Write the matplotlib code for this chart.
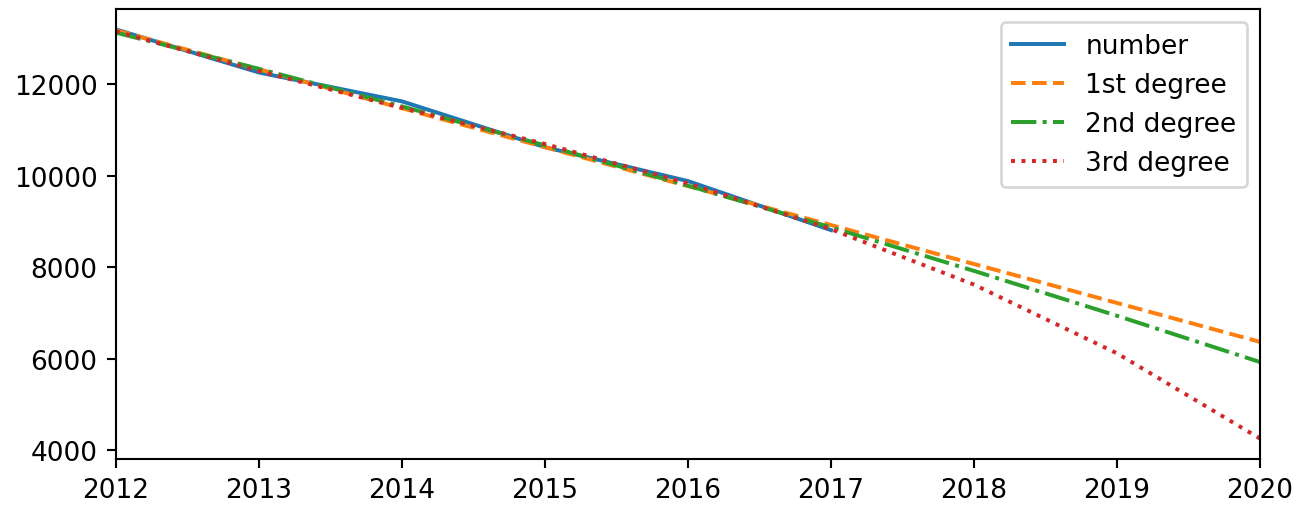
import matplotlib
matplotlib.use('Agg')
import matplotlib.pyplot as plt

# yearly values and polynomial trend lines
years = [2012, 2013, 2014, 2015, 2016, 2017]
number = [13190, 12250, 11620, 10620, 9880, 8810]

fit_years = [2012, 2013, 2014, 2015, 2016, 2017, 2018, 2019, 2020]
deg1 = [13170, 12320, 11470, 10620, 9770, 8920, 8070, 7220, 6370]
deg2 = [13120, 12330, 11510, 10660, 9780, 8870, 7920, 6940, 5930]
deg3 = [13150, 12280, 11480, 10690, 9830, 8830, 7620, 6120, 4260]

dpi = 190
fig = plt.figure(figsize=(1311 / dpi, 506 / dpi), dpi=dpi)
ax = fig.add_axes([116 / 1311, 46 / 506, 1144 / 1311, 450 / 506])

ax.plot(years, number, label='number')
ax.plot(fit_years, deg1, '--', label='1st degree')
ax.plot(fit_years, deg2, '-.', label='2nd degree')
ax.plot(fit_years, deg3, ':', label='3rd degree')

ax.set_xlim(2012, 2020)
ax.set_yticks([4000, 6000, 8000, 10000, 12000])
ax.legend(loc='upper right')

fig.savefig('out.png', dpi=dpi)
